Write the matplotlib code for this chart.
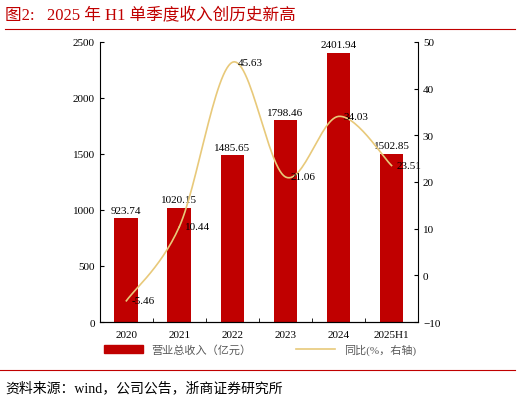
import matplotlib
matplotlib.use("Agg")
import matplotlib.pyplot as plt
import numpy as np

categories = ["2020", "2021", "2022", "2023", "2024", "2025H1"]
revenue = [923.74, 1020.15, 1485.65, 1798.46, 2401.94, 1502.85]
yoy = [-5.46, 10.44, 45.63, 21.06, 34.03, 23.51]

plt.rcParams['font.family'] = ['Liberation Serif', 'Noto Sans CJK SC']
RED = "#C00000"
LINEC = "#E8C97A"

fig = plt.figure(figsize=(5.2, 4.02), dpi=100)
ax = fig.add_axes([0.192, 0.1965, 0.612, 0.697])
x = np.arange(len(categories))
ax.bar(x, revenue, width=0.45, color=RED, zorder=2)
ax.set_xlim(-0.5, len(categories) - 0.5)
ax.set_ylim(0, 2500)
ax.set_yticks(range(0, 2501, 500))
ax.set_xticks(x)
ax.set_xticklabels(categories, fontsize=8)
ax.tick_params(axis='y', labelsize=8, direction='in', length=3)
ax.tick_params(axis='x', length=0, pad=6)
ax.set_xticks(np.arange(-0.5, len(categories), 1), minor=True)
ax.tick_params(axis='x', which='minor', length=3, direction='in')
for s in ['top', 'right']:
    ax.spines[s].set_visible(False)
for v, r in zip(x, revenue):
    ax.text(v, r + 35, f"{r:.2f}", ha='center', va='bottom', fontsize=8)

ax2 = ax.twinx()
ax2.set_ylim(-10, 50)
ax2.set_yticks(range(-10, 51, 10))
ax2.tick_params(axis='y', labelsize=8, direction='in', length=3)
for s in ['top', 'left']:
    ax2.spines[s].set_visible(False)

# Catmull-Rom smoothing for drawing
px = np.array(x, float); py = np.array(yoy, float)
P = np.column_stack([px, py])
P = np.vstack([P[0], P, P[-1]])
xs, ys = [], []
t = np.linspace(0, 1, 30)
for i in range(1, len(P) - 2):
    p0, p1, p2, p3 = P[i-1], P[i], P[i+1], P[i+2]
    c = 0.5 * ((2*p1)[None] + (-p0+p2)[None]*t[:, None] + (2*p0-5*p1+4*p2-p3)[None]*t[:, None]**2
               + (-p0+3*p1-3*p2+p3)[None]*t[:, None]**3)
    xs.extend(c[:, 0]); ys.extend(c[:, 1])
line, = ax2.plot(xs, ys, color=LINEC, lw=1.2, zorder=3)
for v, r in zip(x, yoy):
    ax2.text(v + 0.1, r, f"{r:.2f}", ha='left', va='center', fontsize=8, zorder=4)

from matplotlib.patches import Patch
from matplotlib.lines import Line2D
leg = fig.legend([Patch(color=RED), Line2D([0], [0], color=LINEC, lw=1.2)],
           ["营业总收入（亿元）", "同比(%，右轴)"], loc='center', bbox_to_anchor=(0.5, 0.128),
           ncol=2, frameon=False, handlelength=3.5, columnspacing=4,
           prop={'family': ['Liberation Serif', 'Noto Sans CJK SC'], 'size': 8})
for tx in leg.get_texts():
    tx.set_color("#595959")

fig.text(0.01, 0.962, "图2:   2025 年 H1 单季度收入创历史新高", color=RED, fontsize=12, va='center')
fig.add_artist(Line2D([0.01, 0.99], [0.925, 0.925], color=RED, lw=0.8, transform=fig.transFigure))
fig.add_artist(Line2D([0.0, 0.99], [0.078, 0.078], color=RED, lw=0.8, transform=fig.transFigure))
fig.text(0.01, 0.035, "资料来源：wind，公司公告，浙商证券研究所", fontsize=10, va='center')
fig.savefig("out.png", dpi=100)
